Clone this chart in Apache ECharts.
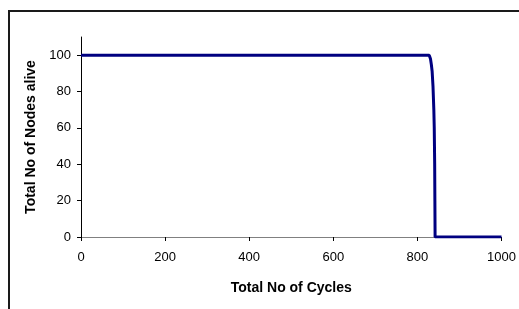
<!DOCTYPE html>
<html lang="en">
<head>
<meta charset="UTF-8">
<title>Nodes alive</title>
<script src="https://cdn.jsdelivr.net/npm/echarts@6/dist/echarts.min.js"></script>
<style>
body{ margin:0; background:#fff; }
#chart{ width:519px; height:309px; }
</style>
</head>
<body>
<div id="chart"></div>
<script>
// cycles vs nodes still alive
var cycles = [0, 828, 831, 833, 835, 837, 839, 840, 841, 841.5, 842, 1000];
var alive  = [100, 100, 98, 95, 91, 83, 70, 60, 40, 20, 0, 0];
var yTicks = [0, 20, 40, 60, 80, 100];

var pts = cycles.map(function(c, i){ return [c, alive[i]]; });
var font = '"Liberation Sans", Arial, sans-serif';

var option = {
    animation: false,
    grid: { left: 81, right: 16, top: 37, bottom: 72 },
    graphic: [{
        type: 'rect',
        shape: { x: 9, y: 11, width: 530, height: 320 },
        style: { fill: 'none', stroke: '#1a1a1a', lineWidth: 2 },
        silent: true
    }],
    xAxis: {
        type: 'value',
        min: 0, max: 1000, interval: 200,
        name: 'Total No of Cycles',
        nameLocation: 'middle',
        nameGap: 44,
        nameTextStyle: { fontFamily: font, fontSize: 14, fontWeight: 'bold', color: '#000' },
        axisLine: { show: true, onZero: false, lineStyle: { color: '#808080', width: 1 } },
        axisTick: { show: true, length: 4, lineStyle: { color: '#000' } },
        axisLabel: { fontFamily: font, fontSize: 13, color: '#000', margin: 14,
            formatter: function(v){ return String(v); } },
        splitLine: { show: false }
    },
    yAxis: {
        type: 'value',
        min: 0, max: 110,
        name: 'Total No of Nodes alive',
        nameLocation: 'middle',
        nameGap: 40,
        nameTextStyle: { fontFamily: font, fontSize: 14, fontWeight: 'bold', color: '#000' },
        axisLine: { show: true, lineStyle: { color: '#000', width: 1 } },
        axisTick: { show: true, length: 4, customValues: yTicks, lineStyle: { color: '#000' } },
        axisLabel: { fontFamily: font, fontSize: 13, color: '#000', margin: 10, customValues: yTicks },
        splitLine: { show: false }
    },
    series: [{
        type: 'line',
        data: pts,
        showSymbol: false,
        lineStyle: { color: '#000080', width: 3 },
        z: 3
    }]
};

var chart = echarts.init(document.getElementById('chart'));
chart.setOption(option);
</script>
</body>
</html>
